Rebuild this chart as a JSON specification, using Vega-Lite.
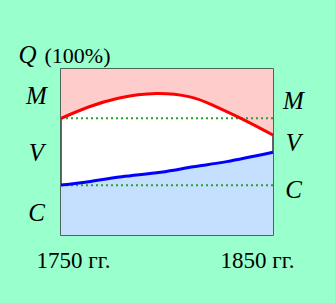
{
  "$schema": "https://vega.github.io/schema/vega-lite/v6.json",
  "width": 212,
  "height": 166,
  "autosize": {"type": "none"},
  "padding": {"left": 61, "top": 69, "right": 62, "bottom": 68},
  "background": "#99ffcc",
  "config": {"view": {"fill": "white", "stroke": "#333333", "strokeWidth": 1.5}},
  "datasets": {
    "red": [
      {"year": 1750, "q": 70.3},
      {"year": 1763, "q": 77.1},
      {"year": 1777, "q": 82.4},
      {"year": 1795, "q": 85.2},
      {"year": 1810.8, "q": 83.2},
      {"year": 1821, "q": 78.5},
      {"year": 1836, "q": 69.5},
      {"year": 1850, "q": 60.2}
    ],
    "blue": [
      {"year": 1750, "q": 30.1},
      {"year": 1763, "q": 32.1},
      {"year": 1778.6, "q": 35.1},
      {"year": 1797, "q": 37.8},
      {"year": 1812.4, "q": 41.1},
      {"year": 1828.2, "q": 44.2},
      {"year": 1850, "q": 49.8}
    ],
    "levels": [{"q": 70.3}, {"q": 30}]
  },
  "resolve": {"axis": {"y": "independent"}},
  "layer": [
    {
      "data": {"name": "red"},
      "mark": {"type": "area", "interpolate": "natural", "fill": "#ffcccc"},
      "encoding": {
        "x": {"field": "year", "type": "quantitative", "scale": {"domain": [1750, 1850], "nice": false, "zero": false},
          "axis": {"values": [1750, 1850], "labelExpr": "datum.value + ' гг.'", "title": null, "domain": false, "ticks": false, "tickSize": 0, "grid": false,
            "labelFont": "Liberation Serif", "labelFontSize": 23, "labelColor": "black", "labelBaseline": "alphabetic", "labelPadding": 32, "labelAlign": "center",
            "labelOffset": {"condition": {"test": "datum.value <= 1750", "value": 12}, "value": -16}}},
        "y": {"field": "q", "type": "quantitative", "scale": {"domain": [0, 100], "nice": false},
          "axis": {"orient": "left", "values": [84.3, 49.4, 13.3], "labelExpr": "datum.value > 70 ? 'M' : datum.value > 30 ? 'V' : 'C'",
            "domain": false, "ticks": false, "tickSize": 0, "grid": false, "labelFont": "Liberation Serif", "labelFontStyle": "italic", "labelFontSize": 25,
            "labelColor": "black", "labelAlign": "center", "labelBaseline": "middle", "labelPadding": 25,
            "title": "Q", "titleAngle": 0, "titleFont": "Liberation Serif", "titleFontStyle": "italic", "titleFontWeight": "normal", "titleFontSize": 25,
            "titleColor": "black", "titleX": -34, "titleY": -7, "titleAlign": "center", "titleBaseline": "alphabetic"}},
        "y2": {"datum": 100}
      }
    },
    {
      "data": {"name": "blue"},
      "mark": {"type": "area", "interpolate": "natural", "fill": "#c5e0ff"},
      "encoding": {
        "x": {"field": "year", "type": "quantitative"},
        "y": {"field": "q", "type": "quantitative",
          "axis": {"orient": "right", "values": [81.3, 55.5, 27.7], "labelExpr": "datum.value > 70 ? 'M' : datum.value > 40 ? 'V' : 'C'",
            "domain": false, "ticks": false, "tickSize": 0, "grid": false, "labelFont": "Liberation Serif", "labelFontStyle": "italic", "labelFontSize": 25,
            "labelColor": "black", "labelAlign": "center", "labelBaseline": "middle", "labelPadding": 20,
            "title": "(100%)", "titleAngle": 0, "titleFont": "Liberation Serif", "titleFontStyle": "normal", "titleFontWeight": "normal", "titleFontSize": 22,
            "titleColor": "black", "titleX": -229, "titleY": -7, "titleAlign": "left", "titleBaseline": "alphabetic"}},
        "y2": {"datum": 0}
      }
    },
    {
      "data": {"name": "levels"},
      "mark": {"type": "rule", "color": "#2e9e2e", "strokeWidth": 2, "strokeDash": [2, 3]},
      "encoding": {"y": {"field": "q", "type": "quantitative", "axis": null}}
    },
    {
      "data": {"name": "red"},
      "mark": {"type": "line", "interpolate": "natural", "color": "#ff0000", "strokeWidth": 3},
      "encoding": {
        "x": {"field": "year", "type": "quantitative"},
        "y": {"field": "q", "type": "quantitative", "axis": null}
      }
    },
    {
      "data": {"name": "blue"},
      "mark": {"type": "line", "interpolate": "natural", "color": "#0000ff", "strokeWidth": 3},
      "encoding": {
        "x": {"field": "year", "type": "quantitative"},
        "y": {"field": "q", "type": "quantitative", "axis": null}
      }
    }
  ]
}
